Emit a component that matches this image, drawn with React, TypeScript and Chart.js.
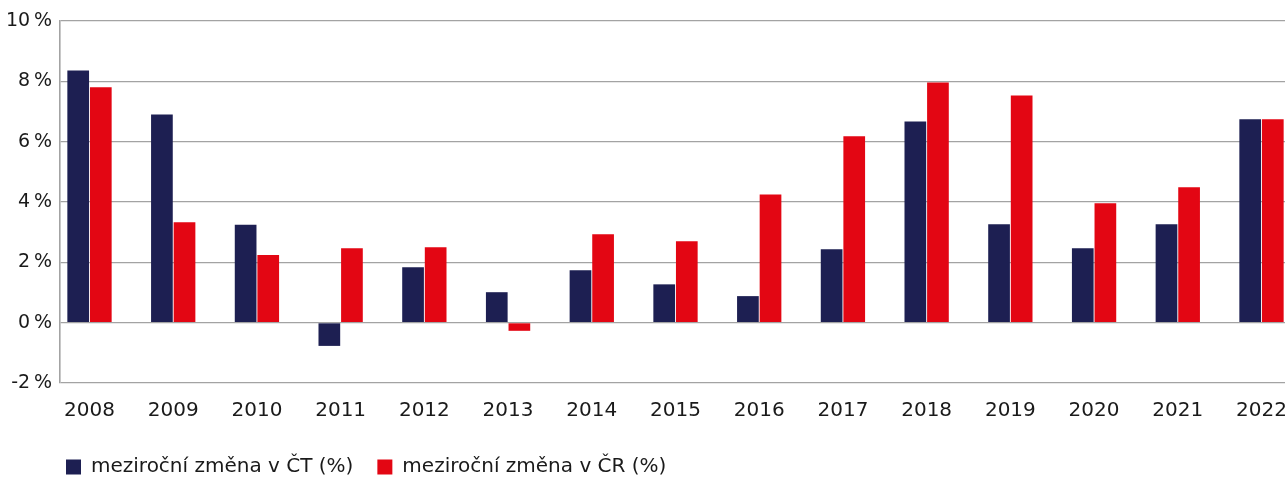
import React, { useEffect, useRef } from "react";
import { Chart, registerables } from "chart.js";

Chart.register(...registerables);

const years: string[] = [
  "2008", "2009", "2010", "2011", "2012", "2013", "2014", "2015",
  "2016", "2017", "2018", "2019", "2020", "2021", "2022",
];
const changeCT: number[] = [
  8.36, 6.9, 3.25, -0.77, 1.84, 1.01, 1.74, 1.27, 0.88, 2.43, 6.67, 3.26, 2.47, 3.26, 6.74,
];
const changeCR: number[] = [
  7.8, 3.33, 2.24, 2.47, 2.5, -0.27, 2.93, 2.7, 4.25, 6.18, 7.96, 7.53, 3.96, 4.49, 6.74,
];
const seriesLabels: string[] = ["meziroční změna v ČT (%)", "meziroční změna v ČR (%)"];
const yTicks: number[] = [-2, 0, 2, 4, 6, 8, 10];

const FONT = "'DejaVu Sans', sans-serif";
const NAVY = "#1d1f52";
const RED = "#e30613";
const GRID = "#a3a3a3";

const legendPlace = {
  id: "legendPlace",
  afterLayout(chart: any) {
    const lg = chart.legend;
    if (!lg) return;
    const pad = lg.options.labels.padding;
    const targetLeft = 66 - pad;
    const targetTop = 457 - pad;
    const dx = targetLeft - lg.left;
    const dy = targetTop - lg.top;
    lg.left += dx;
    lg.right += dx;
    lg.top += dy;
    lg.bottom += dy;
  },
};

export default function App() {
  const ref = useRef<HTMLCanvasElement | null>(null);

  useEffect(() => {
    if (!ref.current) return;
    const chart = new Chart(ref.current, {
      type: "bar",
      data: {
        datasets: [
          {
            label: seriesLabels[0],
            data: changeCT.map((v, i) => ({ x: i, y: v })),
            backgroundColor: NAVY,
            borderWidth: 0,
            categoryPercentage: 0.54,
            barPercentage: 0.96,
          },
          {
            label: seriesLabels[1],
            data: changeCR.map((v, i) => ({ x: i, y: v })),
            backgroundColor: RED,
            borderWidth: 0,
            categoryPercentage: 0.54,
            barPercentage: 0.96,
          },
        ],
      },
      options: {
        animation: false,
        responsive: false,
        maintainAspectRatio: false,
        layout: { padding: { top: 21, left: 0, right: 0, bottom: 0 } },
        plugins: {
          tooltip: { enabled: false },
          legend: {
            position: "bottom",
            align: "start",
            labels: {
              boxWidth: 15,
              boxHeight: 15,
              padding: 24,
              color: "#1a1a1a",
              font: { family: FONT, size: 20 },
            },
          },
        },
        scales: {
          x: {
            type: "linear",
            offset: false,
            min: -0.3524,
            max: 14.2807,
            grid: { display: false, drawTicks: false, offset: false },
            border: { display: false },
            afterBuildTicks: (scale: any) => {
              scale.ticks = years.map((_, i) => ({ value: i }));
            },
            afterFit: (scale: any) => {
              scale.height = 40;
              scale.paddingLeft = 0;
              scale.paddingRight = 0;
            },
            ticks: {
              autoSkip: false,
              maxRotation: 0,
              padding: 16,
              color: "#1a1a1a",
              font: { family: FONT, size: 20 },
              callback: (v: any) => years[Math.round(Number(v))] ?? "",
            },
          },
          y: {
            min: -2,
            max: 10,
            afterBuildTicks: (scale: any) => {
              scale.ticks = yTicks.map((v) => ({ value: v }));
            },
            afterFit: (scale: any) => {
              scale.width = 60;
            },
            grid: { color: GRID, lineWidth: 1.3, drawTicks: false },
            border: { display: true, color: GRID, width: 1.6 },
            ticks: {
              padding: 8,
              color: "#1a1a1a",
              font: { family: FONT, size: 19 },
              callback: (v: any) => `${v}\u2009%`,
            },
          },
        },
      },
      plugins: [legendPlace],
    });
    return () => chart.destroy();
  }, []);

  return (
    <div style={{ position: "absolute", left: 0, top: 0, width: 1285, height: 477, background: "#fff" }}>
      <canvas ref={ref} width={1285} height={477} style={{ display: "block" }} />
    </div>
  );
}
